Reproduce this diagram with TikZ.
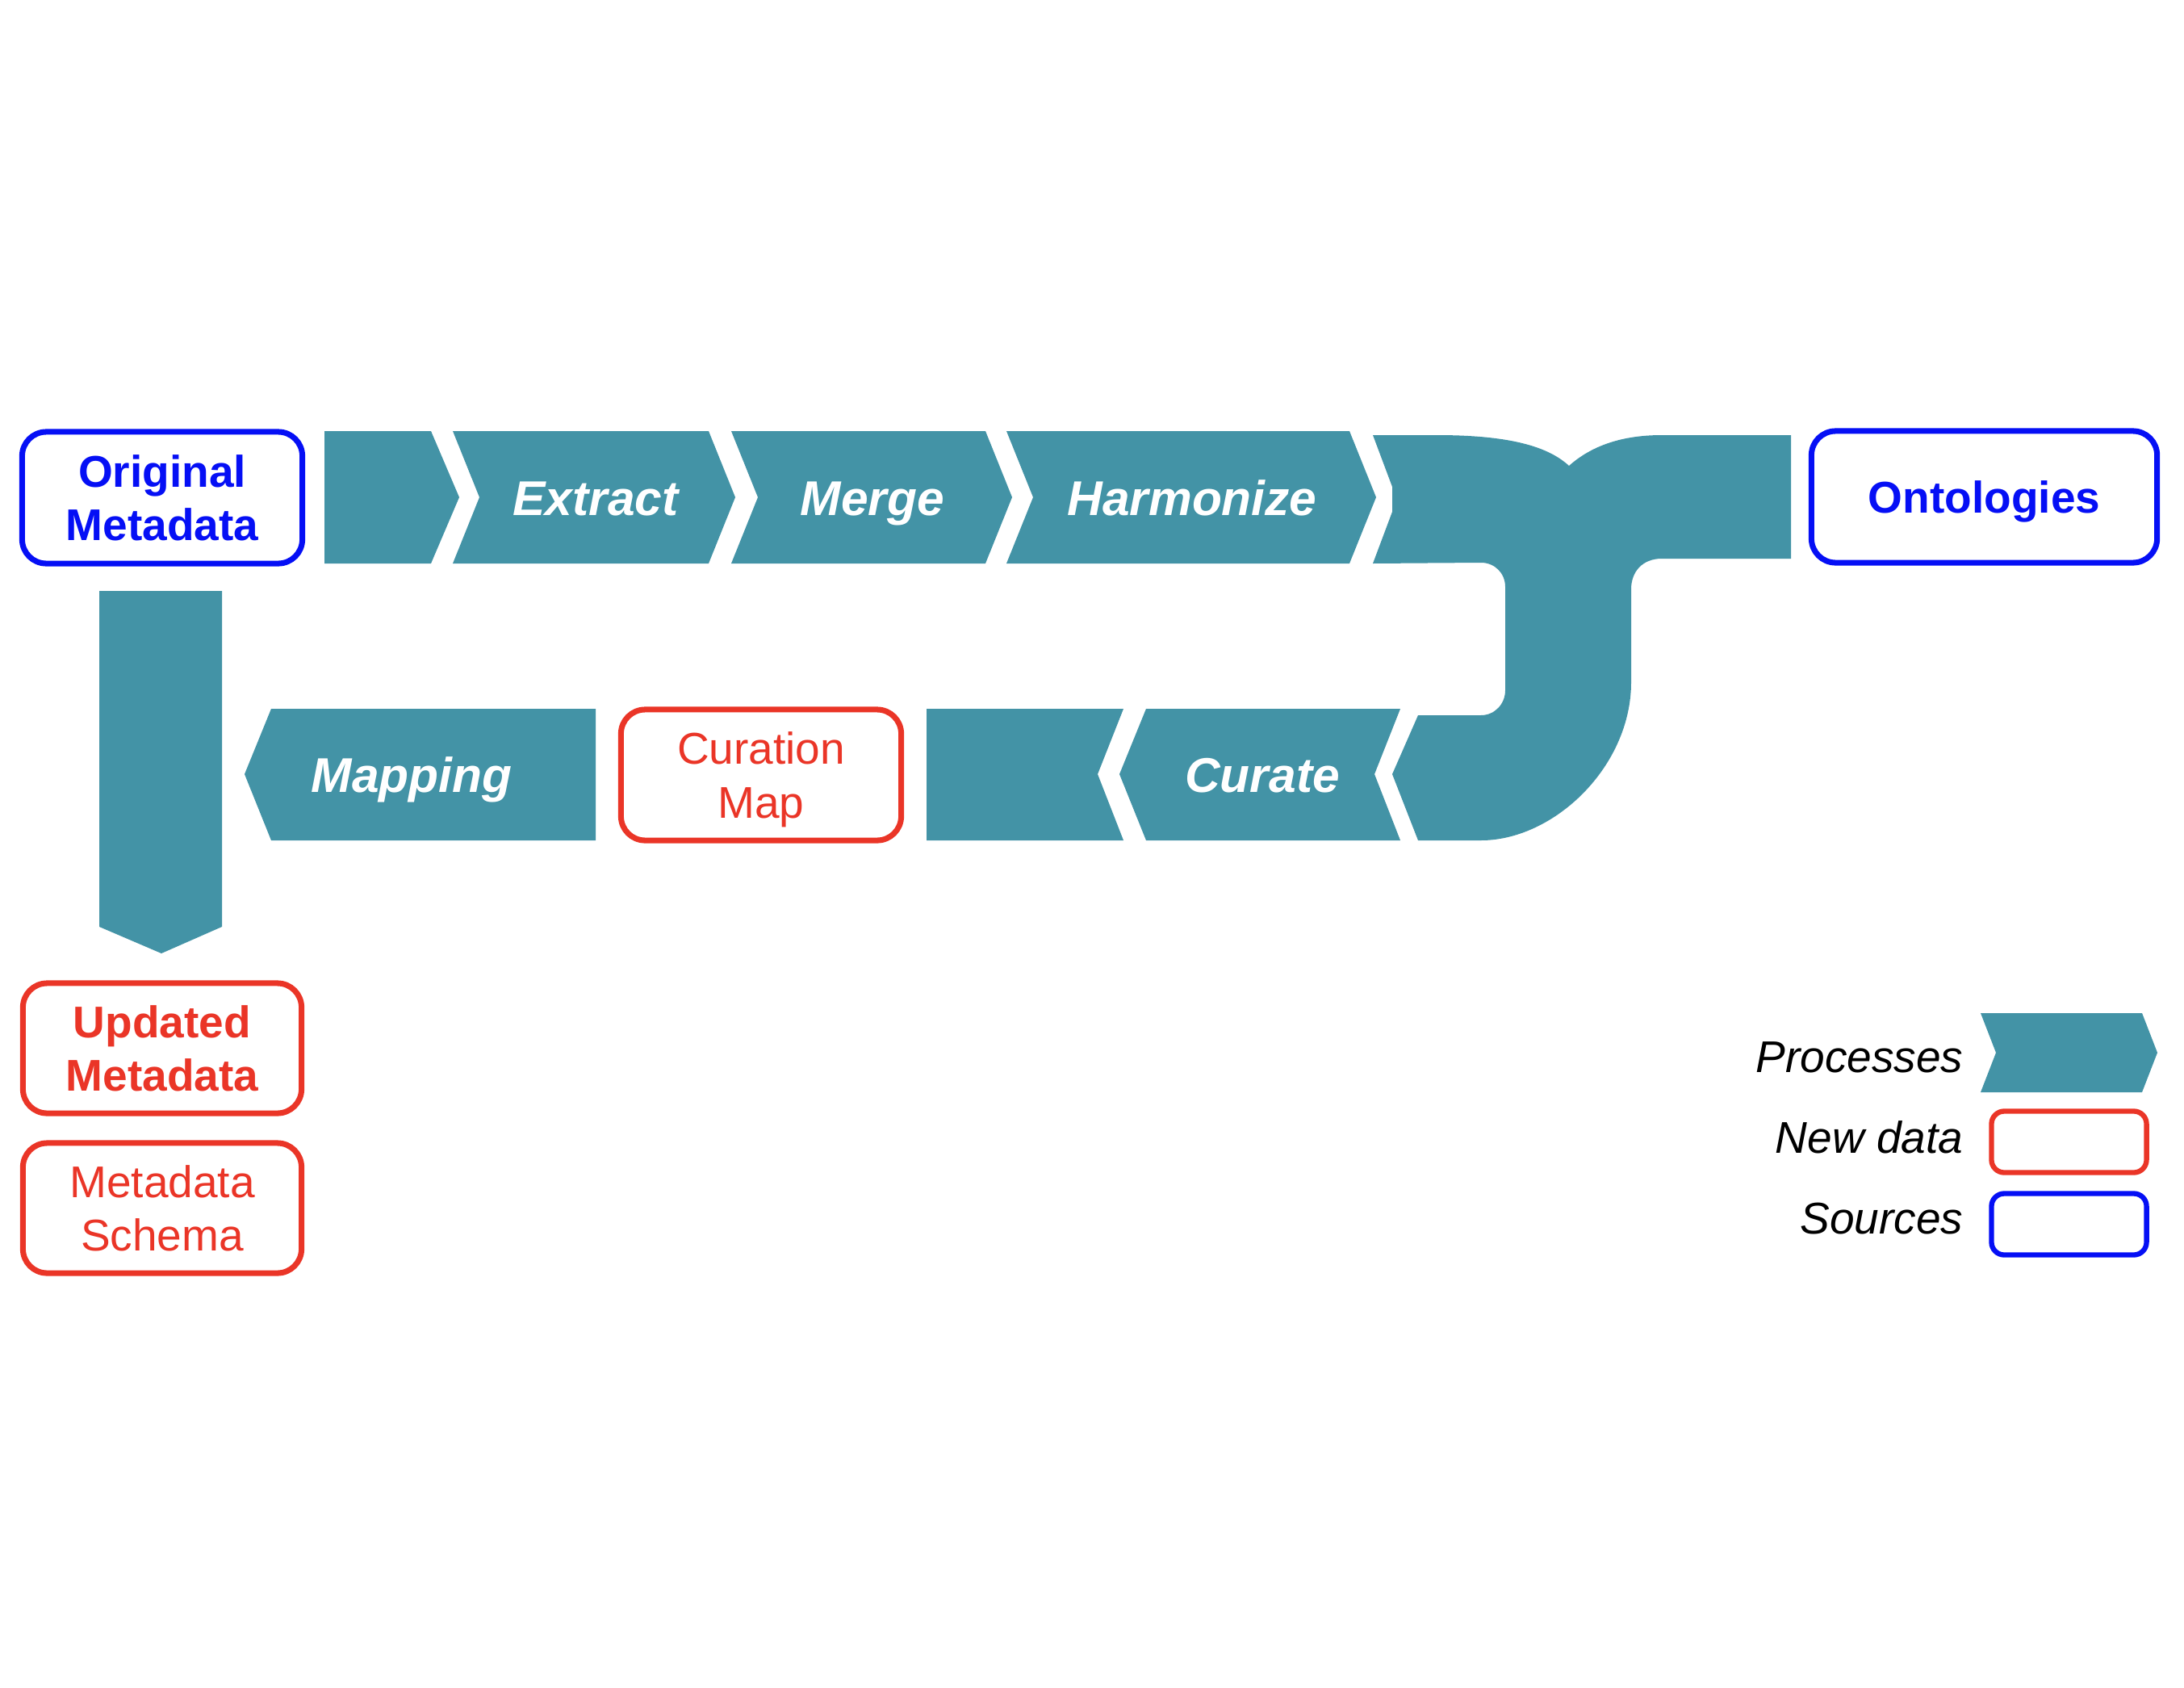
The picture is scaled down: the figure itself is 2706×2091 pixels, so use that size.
\documentclass[tikz,border=0pt]{standalone}
\usepackage{fontspec}
\setmainfont{Liberation Sans}
\definecolor{procteal}{RGB}{67,147,166}
\definecolor{srcblue}{RGB}{5,15,245}
\definecolor{newred}{RGB}{234,53,39}
\begin{document}
\begin{tikzpicture}[x=0.01cm,y=-0.01cm,
  proc/.style={fill=procteal},
  ptext/.style={text=white,font=\fontsize{17.2}{20}\selectfont\bfseries\itshape,anchor=base,inner sep=0pt},
  boxbase/.style={line width=2pt,rounded corners=8.5pt,align=center,text depth=0pt,inner sep=0pt,
    font=\fontsize{15.65}{18.8}\selectfont},
  srcbox/.style={boxbase,draw=srcblue,text=srcblue,font=\fontsize{15.65}{18.8}\selectfont\bfseries},
  newbox/.style={boxbase,draw=newred,text=newred},
  newboxb/.style={newbox,font=\fontsize{15.65}{18.8}\selectfont\bfseries},
  legbox/.style={line width=1.8pt,rounded corners=4.5pt,minimum width=1.92cm,minimum height=0.76cm,inner sep=0pt},
  legtext/.style={font=\fontsize{15.65}{18.8}\selectfont\itshape,anchor=base east,inner sep=0pt}
]
\useasboundingbox (0,0) rectangle (2706,2091);

% top row of processes
\fill[proc] (402,534) -- (534,534) -- (569,616) -- (534,698) -- (402,698) -- cycle;
\fill[proc] (561,534) -- (878,534) -- (911,616) -- (878,698) -- (561,698) -- (594,616) -- cycle;
\fill[proc] (906,534) -- (1221,534) -- (1254,616) -- (1221,698) -- (906,698) -- (939,616) -- cycle;
\fill[proc] (1247,534) -- (1672,534) -- (1705,616) -- (1672,698) -- (1247,698) -- (1280,616) -- cycle;

% pipe
\fill[proc] (1701,539) -- (1780,539)
  .. controls (1870,539) and (1918,553) .. (1944,577)
  .. controls (1972,552) and (2010,539) .. (2059,539)
  -- (2219,539) -- (2219,692) -- (2059,692)
  .. controls (2035,692) and (2021,708) .. (2021,730)
  -- (2021,845)
  .. controls (2021,950) and (1925,1041) .. (1835,1041)
  -- (1757,1041) -- (1725,959) -- (1757,886) -- (1835,886)
  .. controls (1852,886) and (1865,872) .. (1865,855)
  -- (1865,727)
  .. controls (1865,710) and (1852,697) .. (1835,697)
  -- (1701,698) -- (1725,634) -- (1725,603) -- cycle;

% bottom row of processes
\fill[proc] (1420,878) -- (1735,878) -- (1703,959) -- (1735,1041) -- (1420,1041) -- (1387,959) -- cycle;
\fill[proc] (1148,878) -- (1392,878) -- (1360,959) -- (1392,1041) -- (1148,1041) -- cycle;
\fill[proc] (336,878) -- (738,878) -- (738,1041) -- (336,1041) -- (303,959) -- cycle;

% down arrow
\fill[proc] (123,732) -- (275,732) -- (275,1148) -- (200,1181) -- (123,1148) -- cycle;

% process labels
\node[ptext] (extract) at (738,638) {Extract};
\node[ptext] (merge) at (1081,638) {Merge};
\node[ptext] (harmonize) at (1477,638) {Harmonize};
\node[ptext] (curate) at (1564,981) {Curate};
\node[ptext] (mapping) at (510,981) {Mapping};

% data boxes
\node[srcbox,minimum width=3.47cm,minimum height=1.63cm] (orig) at (201,616.5) {Original\\Metadata};
\node[srcbox,minimum width=4.28cm,minimum height=1.63cm] (onto) at (2458.5,615.5) {Ontologies};
\node[newbox,minimum width=3.47cm,minimum height=1.62cm] (curmap) at (943,960) {Curation\\Map};
\node[newboxb,minimum width=3.45cm,minimum height=1.61cm] (updated) at (201,1298.5) {Updated\\Metadata};
\node[newbox,minimum width=3.45cm,minimum height=1.61cm] (schema) at (201,1496.5) {Metadata\\Schema};

% legend
\fill[proc] (2454,1255) -- (2654,1255) -- (2673,1304) -- (2654,1353) -- (2454,1353) -- (2473,1304) -- cycle;
\node[legbox,draw=newred] (legnew) at (2563.5,1414.5) {};
\node[legbox,draw=srcblue] (legsrc) at (2563.5,1516.5) {};
\node[legtext] (lproc) at (2433,1328) {Processes};
\node[legtext] (lnew) at (2433,1428) {New data};
\node[legtext] (lsrc) at (2433,1528) {Sources};
\end{tikzpicture}
\end{document}
